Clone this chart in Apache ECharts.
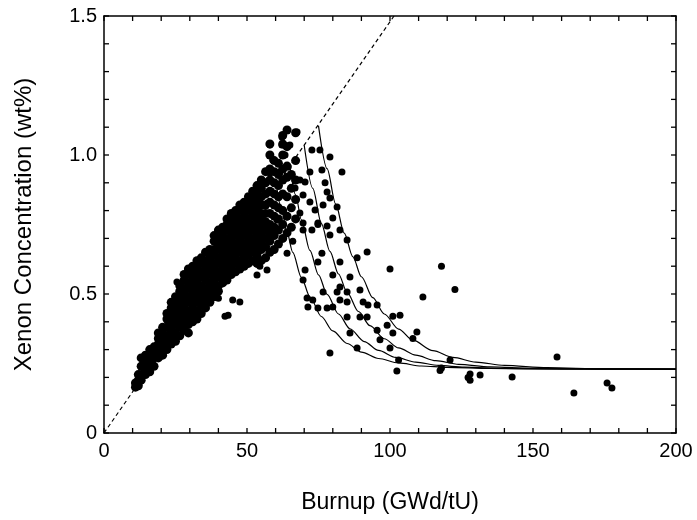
<!DOCTYPE html>
<html><head><meta charset="utf-8">
<script src="https://cdn.jsdelivr.net/npm/echarts@6/dist/echarts.min.js"></script>
<style>html,body{margin:0;padding:0;background:#fff}#c{width:697px;height:520px}</style>
</head><body><div id="c"></div>
<script>
// Axis tick labels and tick marks
const xTicks = [0, 50, 100, 150, 200];
const yTicks = [0, 0.5, 1.0, 1.5];
const xTickMarks = [0,10,20,30,40,50,60,70,80,90,100,110,120,130,140,150,160,170,180,190,200];
const yTickMarks = [0,0.1,0.2,0.3,0.4,0.5,0.6,0.7,0.8,0.9,1.0,1.1,1.2,1.3,1.4,1.5];
// Dashed proportional line (start, end)
const dashedLine = [[0, 0], [101.4, 1.5]];
// Model curves
const curveA = [[60.3,0.892],[62,0.808],[64,0.722],[66,0.650],[69,0.560],[72,0.490],[76,0.419],[80,0.367],[85,0.322],[90,0.291],[96,0.268],[103,0.252],[111,0.241],[120,0.236],[135,0.232],[160,0.23],[200,0.23]];
const curveB = [[65,0.961],[67,0.857],[69,0.767],[72,0.657],[75,0.569],[78,0.499],[82,0.428],[86,0.375],[91,0.329],[96,0.297],[102,0.272],[109,0.255],[117,0.243],[126,0.237],[140,0.232],[160,0.2305],[200,0.23]];
const curveC = [[70,1.035],[73,0.880],[76,0.754],[79,0.653],[82,0.572],[85,0.506],[89,0.437],[93,0.386],[98,0.339],[103,0.306],[109,0.280],[116,0.260],[124,0.247],[135,0.238],[150,0.233],[175,0.23],[200,0.23]];
const curveD = [[75,1.105],[78,0.951],[81,0.824],[84,0.719],[87,0.634],[90,0.562],[94,0.487],[98,0.428],[103,0.374],[108,0.334],[115,0.296],[122,0.272],[130,0.255],[140,0.243],[155,0.235],[175,0.231],[200,0.23]];
// Dense band of measurements, column by column: [burnup, [concentrations]]
const bandColumns = [
 [11,[0.165,0.18]],
 [12,[0.17,0.19,0.21]],
 [13,[0.19,0.21,0.24,0.27]],
 [14.5,[0.21,0.23,0.26,0.28]],
 [16,[0.22,0.25,0.27,0.30]],
 [17.5,[0.24,0.27,0.29,0.31]],
 [19,[0.27,0.29,0.32,0.34,0.36]],
 [20.5,[0.28,0.31,0.33,0.36,0.38]],
 [22,[0.30,0.33,0.35,0.38,0.41,0.43]],
 [23.5,[0.32,0.35,0.37,0.40,0.42,0.45,0.47]],
 [25,[0.33,0.36,0.39,0.41,0.44,0.46,0.49]],
 [26.5,[0.35,0.38,0.41,0.43,0.46,0.48,0.51,0.53]],
 [28,[0.37,0.40,0.42,0.45,0.47,0.50,0.52,0.55,0.57]],
 [29.5,[0.36,0.39,0.42,0.44,0.47,0.49,0.52,0.54,0.57,0.59]],
 [31,[0.40,0.42,0.45,0.48,0.50,0.53,0.55,0.58,0.60]],
 [32.5,[0.41,0.44,0.47,0.49,0.52,0.54,0.57,0.59,0.62]],
 [34,[0.43,0.46,0.48,0.51,0.53,0.56,0.58,0.61,0.63]],
 [35.5,[0.45,0.47,0.50,0.52,0.55,0.57,0.60,0.62,0.65]],
 [37,[0.47,0.49,0.52,0.54,0.57,0.59,0.62,0.64,0.66]],
 [38.5,[0.49,0.51,0.54,0.56,0.59,0.61,0.64,0.66,0.69,0.71]],
 [40,[0.51,0.53,0.56,0.58,0.61,0.63,0.66,0.68,0.70,0.73]],
 [41.5,[0.54,0.57,0.59,0.62,0.64,0.67,0.69,0.72,0.74]],
 [43,[0.55,0.58,0.60,0.63,0.65,0.68,0.70,0.73,0.75,0.77]],
 [44.5,[0.57,0.59,0.62,0.64,0.67,0.69,0.72,0.74,0.77,0.79]],
 [46,[0.58,0.61,0.63,0.66,0.68,0.71,0.73,0.76,0.78,0.80]],
 [47.5,[0.59,0.62,0.65,0.67,0.70,0.72,0.75,0.77,0.80,0.82]],
 [49,[0.60,0.63,0.66,0.68,0.71,0.73,0.76,0.78,0.81,0.83]],
 [50.5,[0.61,0.64,0.67,0.69,0.72,0.75,0.77,0.80,0.82,0.85]],
 [52,[0.62,0.65,0.68,0.70,0.73,0.76,0.78,0.81,0.84,0.87]],
 [53.5,[0.61,0.64,0.67,0.70,0.72,0.75,0.78,0.80,0.83,0.86,0.89]],
 [55,[0.62,0.66,0.69,0.72,0.74,0.77,0.79,0.82,0.85,0.88,0.91]],
 [56.5,[0.63,0.67,0.70,0.73,0.76,0.79,0.82,0.86,0.90,0.94]],
 [58,[0.65,0.69,0.72,0.75,0.79,0.83,0.87,0.91,0.95,1.0,1.04]],
 [59.5,[0.66,0.71,0.74,0.78,0.82,0.86,0.90,0.94,0.98]],
 [61,[0.68,0.73,0.77,0.81,0.85,0.89,0.93,0.97]],
 [62.5,[0.70,0.75,0.80,0.86,0.91,0.95,1.00,1.04,1.07]],
 [64,[0.72,0.78,0.85,0.92,0.96,1.03,1.09]],
 [65.5,[0.74,0.81,0.88,0.93]],
 [67,[0.77,0.84,0.91,0.98,1.08]]
];
// Individually resolved measurements
const looseBurnup = [25.5,17.8,42.3,43.4,45,47.5,40,47.5,53.5,57,54.5,64,67.5,62.2,58,62.2,65,59,63.3,64.4,58,61.5,72.7,75.5,79,83.2,72,76.2,77.3,78,79,81.5,76.6,80,70.3,68.5,66.8,69.6,72,73.8,74.8,68.5,69.6,64,60.5,72.7,82.5,79,64,66,69.6,74.8,78,85,92,88.5,82.5,76.2,74.8,80,86,70.3,69.6,82.5,81.5,85,76.6,89.5,71,73,71.3,74.8,78,80,82.5,85,90.6,92.3,95.5,89.5,92,85,95.5,86,96.5,88.5,79,99,100,118,122.7,111.5,101,103.5,109.4,108,101,100,103,102.4,121,118,117.5,128,127.3,128,131.5,142.7,158.4,164.3,175.9,177.6];
const looseConc = [0.543,0.31,0.42,0.424,0.478,0.471,0.485,0.593,0.568,0.586,0.6,1.09,1.083,1.065,1.036,1.036,1.036,0.982,1.0,0.957,0.935,0.939,1.018,1.018,0.993,0.939,0.939,0.946,0.9,0.867,0.845,0.813,0.82,0.773,0.903,0.91,0.881,0.856,0.831,0.802,0.755,0.791,0.755,0.777,0.766,0.73,0.73,0.712,0.647,0.69,0.73,0.75,0.745,0.694,0.651,0.63,0.615,0.647,0.615,0.568,0.561,0.586,0.55,0.525,0.507,0.507,0.507,0.514,0.486,0.478,0.453,0.45,0.45,0.453,0.478,0.471,0.471,0.46,0.46,0.417,0.417,0.417,0.37,0.36,0.335,0.306,0.288,0.388,0.59,0.6,0.516,0.489,0.42,0.424,0.363,0.34,0.36,0.306,0.263,0.223,0.263,0.234,0.225,0.212,0.2,0.19,0.209,0.201,0.273,0.144,0.18,0.162];

const bandPoints = [];
bandColumns.forEach(c => c[1].forEach(y => bandPoints.push([c[0], y])));
const loosePoints = looseBurnup.map((x, i) => [x, looseConc[i]]);

const X_MIN = 0, X_MAX = 200, Y_MIN = 0, Y_MAX = 1.5, TICK = 5;
const isMajor = (v, step) => Math.abs(v / step - Math.round(v / step)) < 1e-6;
const font = '"Liberation Sans", Arial, sans-serif';
const axisBase = {
  type: 'value', axisLine: {show: true, onZero: false, lineStyle: {color: '#000', width: 1.5}},
  axisTick: {show: false}, splitLine: {show: false}
};
const tickStyle = {stroke: '#000', lineWidth: 1.3};
const chart = echarts.init(document.getElementById('c'), null, {renderer: 'canvas'});
chart.setOption({
  animation: false,
  backgroundColor: '#fff',
  grid: {left: 104, top: 16, right: 21, bottom: 87},
  xAxis: [
    Object.assign({}, axisBase, {min: X_MIN, max: X_MAX, interval: 10, position: 'bottom',
      name: 'Burnup (GWd/tU)', nameLocation: 'middle', nameGap: 58,
      nameTextStyle: {fontFamily: font, fontSize: 23, color: '#000'},
      axisLabel: {interval: 0, margin: 8, fontFamily: font, fontSize: 20, color: '#000',
        formatter: v => (isMajor(v, 50) && xTicks.indexOf(Math.round(v)) >= 0) ? String(Math.round(v)) : ''}}),
    Object.assign({}, axisBase, {min: X_MIN, max: X_MAX, interval: 10, position: 'top', axisLabel: {show: false}})
  ],
  yAxis: [
    Object.assign({}, axisBase, {min: Y_MIN, max: Y_MAX, interval: 0.1, position: 'left',
      name: 'Xenon Concentration (wt%)', nameLocation: 'middle', nameGap: 68,
      nameTextStyle: {fontFamily: font, fontSize: 24, color: '#000'},
      axisLabel: {interval: 0, margin: 7, fontFamily: font, fontSize: 20, color: '#000',
        formatter: v => isMajor(v, 0.5) ? (Math.abs(v) < 1e-9 ? '0' : v.toFixed(1)) : ''}}),
    Object.assign({}, axisBase, {min: Y_MIN, max: Y_MAX, interval: 0.1, position: 'right', axisLabel: {show: false}})
  ],
  series: [
    // inward tick marks on bottom/top
    {type: 'custom', data: xTickMarks.map(v => [v, Y_MIN]), clip: false, silent: true, z: 10,
      renderItem: (params, api) => {
        const b = api.coord([api.value(0), Y_MIN]);
        const t = api.coord([api.value(0), Y_MAX]);
        return {type: 'group', children: [
          {type: 'line', shape: {x1: b[0], y1: b[1], x2: b[0], y2: b[1] - TICK}, style: tickStyle},
          {type: 'line', shape: {x1: t[0], y1: t[1], x2: t[0], y2: t[1] + TICK}, style: tickStyle}
        ]};
      }},
    // inward tick marks on left/right
    {type: 'custom', data: yTickMarks.map(v => [X_MIN, v]), clip: false, silent: true, z: 10,
      renderItem: (params, api) => {
        const l = api.coord([X_MIN, api.value(1)]);
        const r = api.coord([X_MAX, api.value(1)]);
        return {type: 'group', children: [
          {type: 'line', shape: {x1: l[0], y1: l[1], x2: l[0] + TICK, y2: l[1]}, style: tickStyle},
          {type: 'line', shape: {x1: r[0], y1: r[1], x2: r[0] - TICK, y2: r[1]}, style: tickStyle}
        ]};
      }},
    {type: 'line', data: dashedLine, symbol: 'none', lineStyle: {color: '#000', width: 1.2, type: [4, 3]}, z: 3},
    ...[curveA, curveB, curveC, curveD].map(c => ({type: 'line', data: c, symbol: 'none', smooth: 0.3, smoothMonotone: 'x',
      lineStyle: {color: '#000', width: 1.2}, z: 3})),
    {type: 'scatter', data: bandPoints, symbol: 'circle', symbolSize: 9, itemStyle: {color: '#000', opacity: 1}, z: 6},
    {type: 'scatter', data: loosePoints, symbol: 'circle', symbolSize: 7, itemStyle: {color: '#000', opacity: 1}, z: 6}
  ]
});
</script></body></html>
